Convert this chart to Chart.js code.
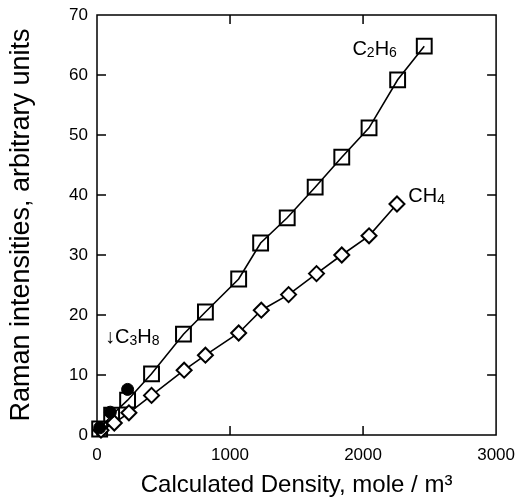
<!DOCTYPE html>
<html>
<head>
<meta charset="utf-8">
<script src="https://cdn.jsdelivr.net/npm/chart.js@4.4.1/dist/chart.umd.min.js"></script>
<style>
  html, body { margin: 0; padding: 0; background: #fff; }
  #wrap { width: 525px; height: 500px; }
</style>
</head>
<body>
<div id="wrap"><canvas id="raman"></canvas></div>
<script>
      // axis ticks
      var xTicks = [0, 1000, 2000, 3000];
      var yTicks = [0, 10, 20, 30, 40, 50, 60, 70];

      // C2H6 (squares)
      var ethaneDensity = [20, 110, 230, 410, 650, 815, 1065, 1230, 1430, 1640, 1840, 2045, 2260, 2460];
      var ethaneIntensity = [1.0, 3.3, 5.8, 10.2, 16.8, 20.5, 26.0, 32.0, 36.2, 41.3, 46.3, 51.2, 59.2, 64.8];

      // CH4 (diamonds)
      var methaneDensity = [30, 130, 240, 410, 655, 815, 1065, 1235, 1440, 1650, 1840, 2045, 2255];
      var methaneIntensity = [0.8, 2.0, 3.7, 6.6, 10.8, 13.3, 17.0, 20.8, 23.4, 26.9, 30.0, 33.2, 38.5];

      // C3H8 (filled circles)
      var propaneDensity = [20, 100, 230];
      var propaneIntensity = [1.2, 3.8, 7.6];

      function toPoints(xs, ys) {
        var pts = [];
        for (var i = 0; i < xs.length; i++) {
          pts.push({ x: xs[i], y: ys[i] });
        }
        return pts;
      }

      var fontFamily = '"Liberation Sans", Arial, sans-serif';

      // text with subscripts, parts: [text, isSub]
      function drawFormula(ctx, parts, x, y) {
        var cx = x;
        for (var i = 0; i < parts.length; i++) {
          if (parts[i][1]) {
            ctx.font = '14px ' + fontFamily;
            ctx.fillText(parts[i][0], cx, y + 4);
          } else {
            ctx.font = '20px ' + fontFamily;
            ctx.fillText(parts[i][0], cx, y);
          }
          cx += ctx.measureText(parts[i][0]).width;
        }
      }

      var frameAndTicks = {
        id: 'frameAndTicks',
        beforeDatasetsDraw: function (chart) {
          var ctx = chart.ctx;
          var a = chart.chartArea;
          var xs = chart.scales.x;
          var ys = chart.scales.y;
          var len = 9;
          ctx.save();
          ctx.strokeStyle = '#000';
          ctx.lineWidth = 1.5;
          ctx.strokeRect(a.left, a.top, a.right - a.left, a.bottom - a.top);
          ctx.beginPath();
          for (var i = 1; i < xTicks.length - 1; i++) {
            var px = xs.getPixelForValue(xTicks[i]);
            ctx.moveTo(px, a.bottom); ctx.lineTo(px, a.bottom - len);
            ctx.moveTo(px, a.top); ctx.lineTo(px, a.top + len);
          }
          for (var j = 1; j < yTicks.length - 1; j++) {
            var py = ys.getPixelForValue(yTicks[j]);
            ctx.moveTo(a.left, py); ctx.lineTo(a.left + len, py);
            ctx.moveTo(a.right, py); ctx.lineTo(a.right - len, py);
          }
          ctx.stroke();
          ctx.restore();
        },
        afterDraw: function (chart) {
          var ctx = chart.ctx;
          var xs = chart.scales.x;
          var ys = chart.scales.y;
          ctx.save();
          ctx.fillStyle = '#000';
          ctx.textBaseline = 'middle';
          ctx.textAlign = 'left';
          drawFormula(ctx, [['C', 0], ['2', 1], ['H', 0], ['6', 1]],
            xs.getPixelForValue(1920), ys.getPixelForValue(64.3));
          drawFormula(ctx, [['CH', 0], ['4', 1]],
            xs.getPixelForValue(2340), ys.getPixelForValue(39.8));
          drawFormula(ctx, [['\u2193C', 0], ['3', 1], ['H', 0], ['8', 1]],
            xs.getPixelForValue(60), ys.getPixelForValue(16.3));
          ctx.restore();
        }
      };

      var ctx = document.getElementById('raman');
      new Chart(ctx, {
        type: 'scatter',
        data: {
          datasets: [
            {
              label: 'C3H8',
              data: toPoints(propaneDensity, propaneIntensity),
              showLine: false,
              pointStyle: 'circle',
              pointRadius: 6,
              pointBackgroundColor: '#000',
              pointBorderColor: '#000',
              clip: false
            },
            {
              label: 'CH4',
              data: toPoints(methaneDensity, methaneIntensity),
              showLine: true,
              borderColor: '#000',
              borderWidth: 1.6,
              pointStyle: 'rectRot',
              pointRadius: 7.5,
              pointBorderWidth: 2,
              pointBackgroundColor: '#fff',
              pointBorderColor: '#000',
              clip: false
            },
            {
              label: 'C2H6',
              data: toPoints(ethaneDensity, ethaneIntensity),
              showLine: true,
              borderColor: '#000',
              borderWidth: 1.6,
              pointStyle: 'rect',
              pointRadius: 10.5,
              pointBorderWidth: 2,
              pointBackgroundColor: 'rgba(255,255,255,0)',
              pointBorderColor: '#000',
              clip: false
            }
          ]
        },
        options: {
          responsive: true,
          maintainAspectRatio: false,
          animation: false,
          layout: {
            padding: { top: 15, right: 28, left: 0, bottom: 0 }
          },
          plugins: {
            legend: { display: false },
            tooltip: { enabled: false }
          },
          scales: {
            x: {
              type: 'linear',
              min: 0,
              max: 3000,
              afterFit: function (scale) { scale.height = 65; },
              afterBuildTicks: function (scale) {
                scale.ticks = xTicks.map(function (v) { return { value: v }; });
              },
              grid: { display: false, drawTicks: false },
              border: { display: false },
              ticks: {
                color: '#000',
                padding: 10,
                maxRotation: 0,
                font: { family: fontFamily, size: 17 },
                callback: function (v) { return String(v); }
              },
              title: {
                display: true,
                text: 'Calculated Density, mole / m\u00B3',
                color: '#000',
                padding: { top: 2, bottom: 0 },
                font: { family: fontFamily, size: 24 }
              }
            },
            y: {
              type: 'linear',
              min: 0,
              max: 70,
              afterFit: function (scale) {
                scale.width = 97;
                scale.paddingTop = 0;
                scale.paddingBottom = 0;
              },
              afterBuildTicks: function (scale) {
                scale.ticks = yTicks.map(function (v) { return { value: v }; });
              },
              grid: { display: false, drawTicks: false },
              border: { display: false },
              ticks: {
                color: '#000',
                padding: 9,
                font: { family: fontFamily, size: 17 },
                callback: function (v) { return String(v); }
              },
              title: {
                display: true,
                text: 'Raman intensities, arbitrary units',
                color: '#000',
                padding: { top: 5, bottom: 4 },
                font: { family: fontFamily, size: 27 }
              }
            }
          }
        },
        plugins: [frameAndTicks]
      });
</script>
</body>
</html>
